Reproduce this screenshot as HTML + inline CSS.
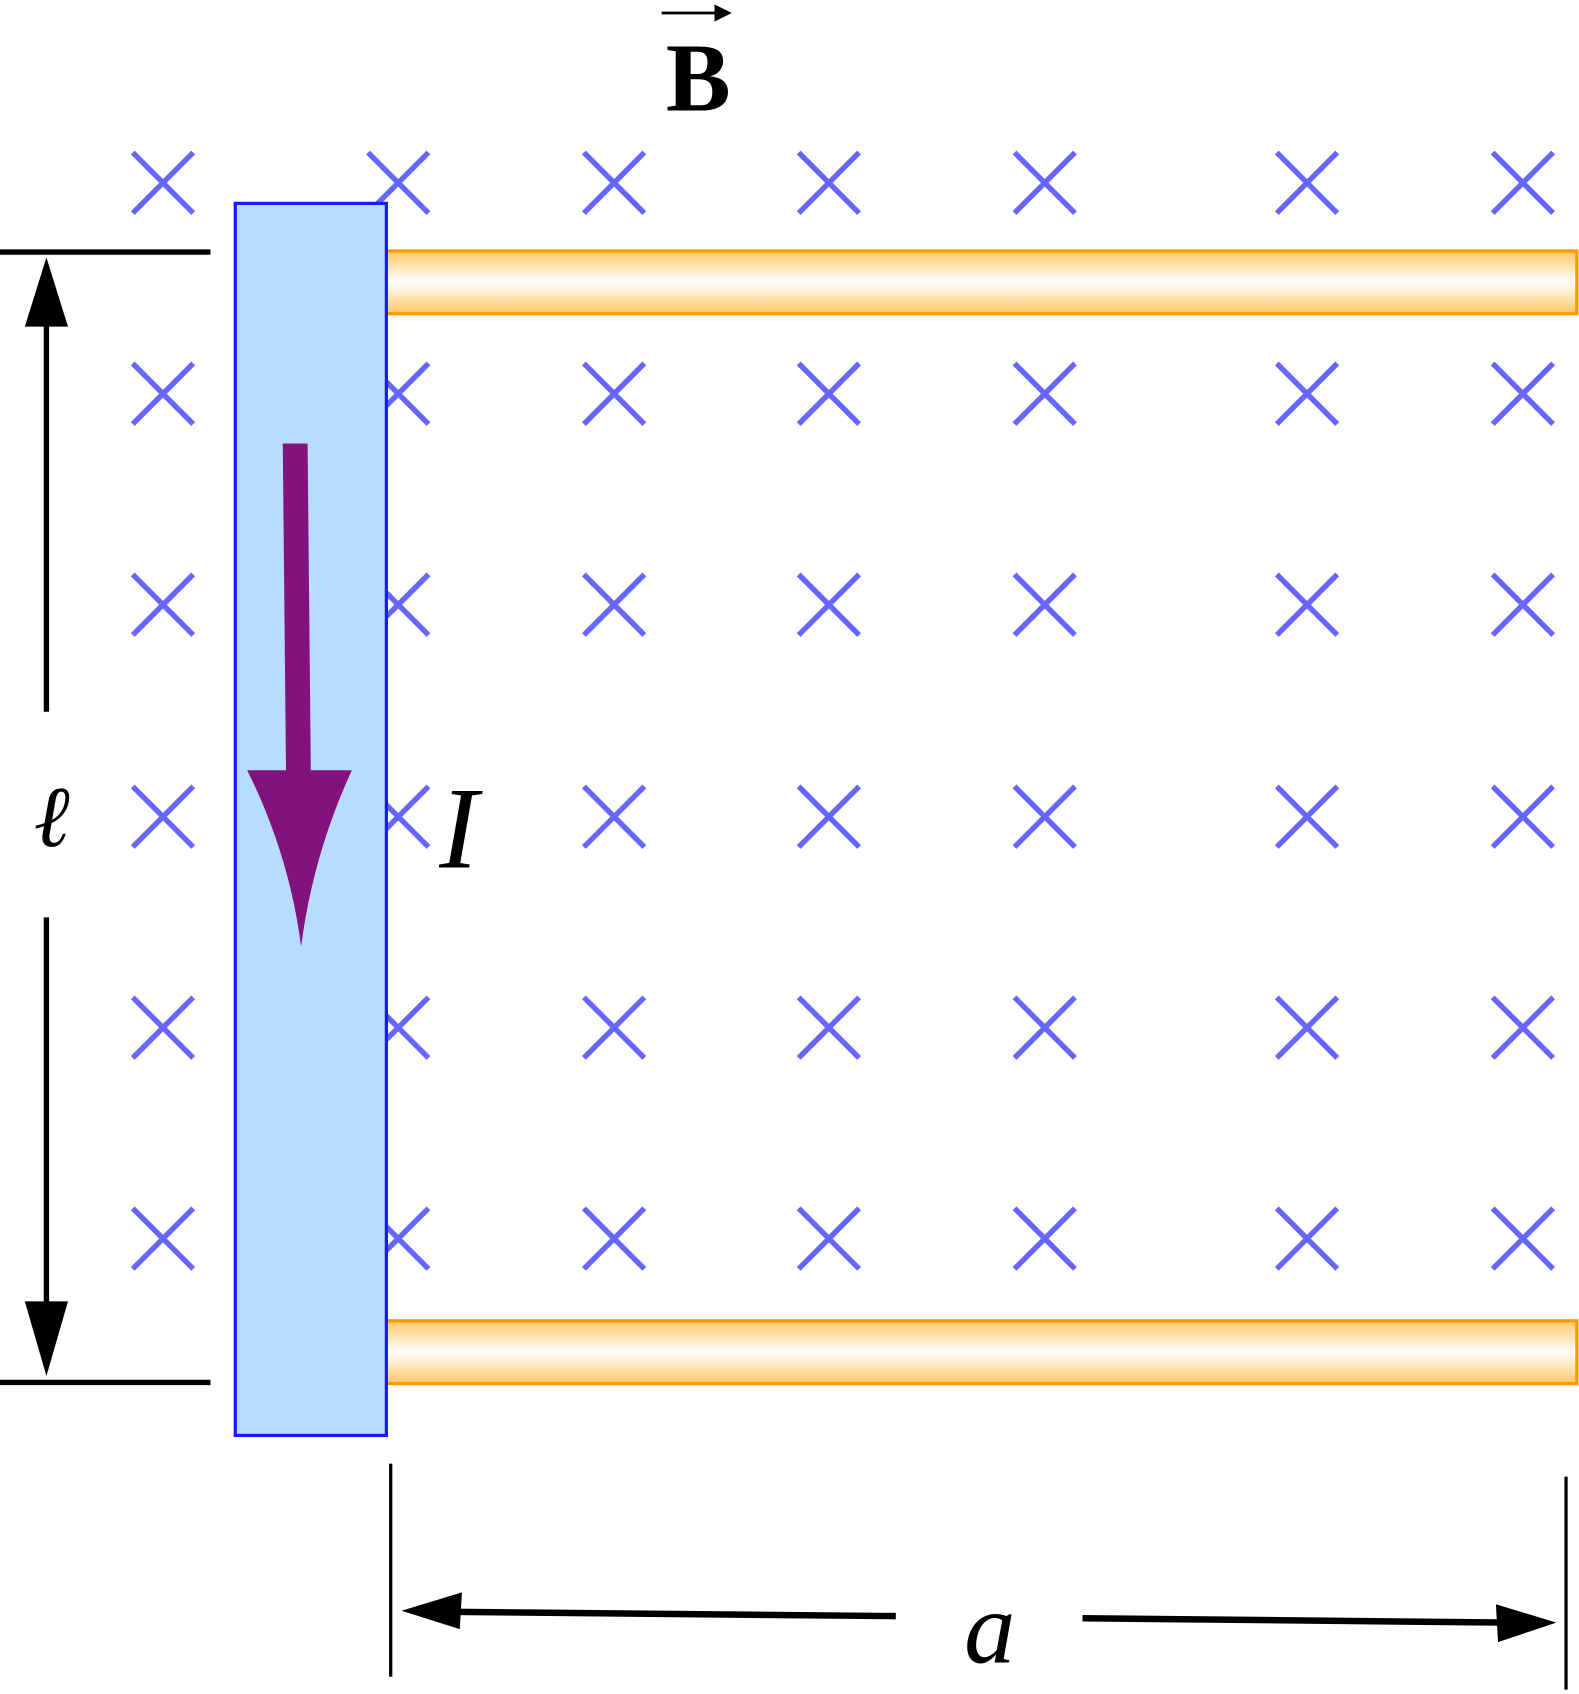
<!DOCTYPE html>
<html><head><meta charset="utf-8"><style>html,body{margin:0;padding:0;background:#fff}svg{display:block}</style></head>
<body>
<svg width="1579" height="1694" viewBox="0 0 1463 1566" preserveAspectRatio="none" xmlns="http://www.w3.org/2000/svg">
<defs>
<linearGradient id="rg" x1="0" y1="0" x2="0" y2="1">
<stop offset="0" stop-color="#ffc766"/><stop offset="0.5" stop-color="#ffffff"/><stop offset="1" stop-color="#ffc766"/>
</linearGradient>
</defs>
<g id="crosses" stroke="#6666ff" stroke-width="5"></g>
<g>
<line x1="613" y1="12" x2="668" y2="12" stroke="#000" stroke-width="2.5"/>
<path d="M662,4 L678,12 L662,20 Z" fill="#000"/>
<text x="647" y="102" font-family="Liberation Serif, serif" font-weight="bold" font-size="90" text-anchor="middle">B</text>
</g>
<rect x="358" y="232" width="1103" height="58" fill="url(#rg)" stroke="#ff9900" stroke-width="3"/>
<rect x="358" y="1221" width="1103" height="58" fill="url(#rg)" stroke="#ff9900" stroke-width="3"/>
<rect x="218" y="188" width="140" height="1139" fill="#b8dcff" stroke="#1a1aff" stroke-width="3"/>
<g fill="#82137e">
<path d="M262,410 L285,410 L288,714 L265,714 Z"/>
<path d="M229,712 L326,712 Q290,790 279,875 Q268,790 229,712 Z"/>
</g>
<text x="425" y="802" font-family="Liberation Serif, serif" font-style="italic" font-size="108" text-anchor="middle">I</text>
<g stroke="#000" fill="#000">
<line x1="0" y1="233" x2="195" y2="233" stroke-width="5"/>
<line x1="0" y1="1278" x2="195" y2="1278" stroke-width="5"/>
<line x1="43" y1="290" x2="43" y2="658" stroke-width="5"/>
<line x1="43" y1="848" x2="43" y2="1215" stroke-width="5"/>
<path d="M43,238 L63,302 L23,302 Z" stroke="none"/>
<path d="M43,1272 L63,1203 L23,1203 Z" stroke="none"/>
</g>
<text x="48" y="782" font-family="Liberation Serif, serif" font-style="italic" font-size="80" text-anchor="middle">ℓ</text>
<g stroke="#000" fill="#000">
<line x1="362" y1="1353" x2="362" y2="1550" stroke-width="3"/>
<line x1="1451" y1="1365" x2="1451" y2="1562" stroke-width="3"/>
<line x1="410" y1="1490" x2="830" y2="1494" stroke-width="6"/>
<line x1="1003" y1="1496" x2="1400" y2="1500" stroke-width="6"/>
<path d="M372,1489 L428,1472 L426,1506 Z" stroke="none"/>
<path d="M1442,1500 L1386,1483 L1388,1518 Z" stroke="none"/>
</g>
<text x="917" y="1537" font-family="Liberation Serif, serif" font-style="italic" font-size="95" text-anchor="middle">a</text>
<script>
const colX=[151,369,569,768,968,1211,1411];
const rowY=[169,364,559,755,950,1145];
const g=document.getElementById('crosses');
const NS='http://www.w3.org/2000/svg';
rowY.forEach(y=>colX.forEach(x=>{
 const p=document.createElementNS(NS,'path');
 p.setAttribute('d',`M${x-28},${y-28}L${x+28},${y+28}M${x+28},${y-28}L${x-28},${y+28}`);
 
 
 g.appendChild(p);
}));
</script>
</svg>
</body></html>
